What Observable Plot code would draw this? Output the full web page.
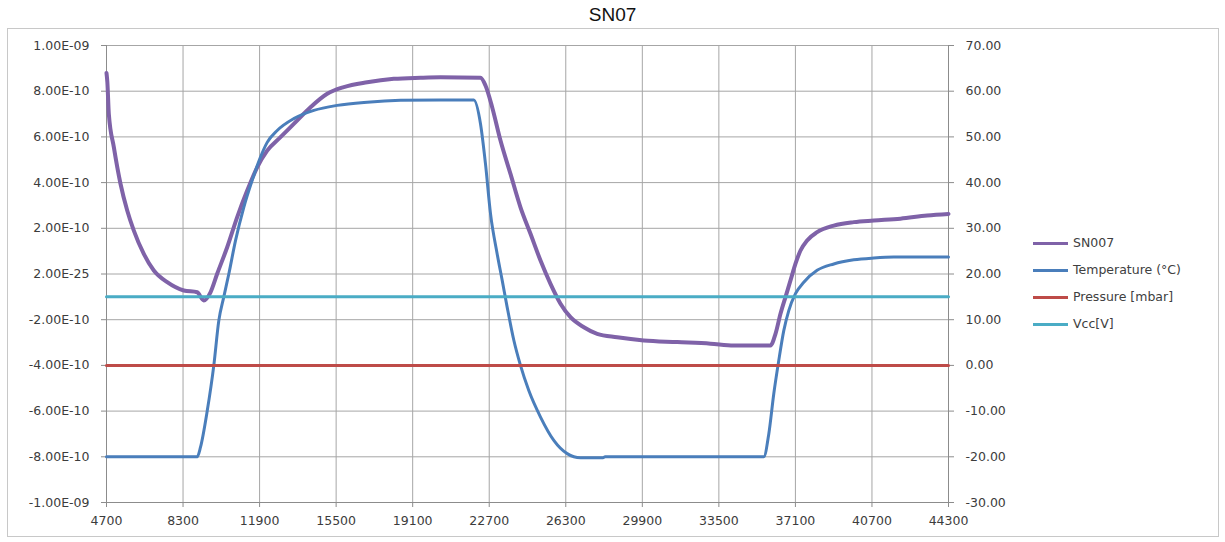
<!DOCTYPE html>
<html>
<head>
<meta charset="utf-8">
<script src="https://cdn.jsdelivr.net/npm/d3@7"></script>
<script src="https://cdn.jsdelivr.net/npm/@observablehq/plot@0.6"></script>
<style>
  html, body { margin: 0; padding: 0; background: #fff; }
  #wrap { position: relative; width: 1225px; height: 542px; overflow: hidden; }
  #frame { position: absolute; left: 7px; top: 28px; width: 1212px; height: 509px; border: 1px solid #c8c8c8; box-sizing: border-box; }
  #title { position: absolute; left: 0; top: 3px; width: 1225px; text-align: center; font: 19px "Liberation Sans", Arial, sans-serif; line-height: 24px; color: #111; }
  #legend { position: absolute; left: 1033px; top: 0; font: 12.5px "DejaVu Sans", sans-serif; color: #404040; }
  .item { position: absolute; left: 0; white-space: nowrap; height: 16px; line-height: 16px; }
  .swatch { position: absolute; left: 0; top: 6.5px; width: 35px; height: 3px; }
  .lab { position: absolute; left: 40px; top: 0; }
  #chart { position: absolute; left: 0; top: 0; }
</style>
</head>
<body>
<div id="wrap">
  <div id="frame"></div>
  <div id="chart"></div>
  <div id="title"></div>
  <div id="legend"></div>
</div>
<script>
// ---- data ----
const title = "SN07";

const xTicks = [4700, 8300, 11900, 15500, 19100, 22700, 26300, 29900, 33500, 37100, 40700, 44300];
const yTicks = [70, 60, 50, 40, 30, 20, 10, 0, -10, -20, -30]; // right axis (°C) positions
const leftLabels = ["1.00E-09", "8.00E-10", "6.00E-10", "4.00E-10", "2.00E-10", "2.00E-25",
                    "-2.00E-10", "-4.00E-10", "-6.00E-10", "-8.00E-10", "-1.00E-09"];
const rightLabels = ["70.00", "60.00", "50.00", "40.00", "30.00", "20.00", "10.00", "0.00",
                     "-10.00", "-20.00", "-30.00"];

const seriesNames = ["SN007", "Temperature (°C)", "Pressure [mbar]", "Vcc[V]"];
const seriesColors = ["#7f62a8", "#4a7ebb", "#be4b48", "#4aacc5"];

// SN007 (left axis, values in units of 1e-10)
const snX = [4700, 4740, 4810, 5045, 5358, 5674, 5985, 6454, 6925, 7555, 8335, 8966, 9276, 9591,
  9906, 10376, 10847, 11317, 11787, 12258, 12883, 13509, 14294, 15080, 15860, 16961, 18212, 19468,
  20408, 22289, 22524, 22838, 23230, 23700, 24170, 24641, 25112, 25582, 26052, 26523, 27150, 27777,
  28718, 29971, 31540, 33107, 34202, 35928, 36163, 36398, 36633, 36869, 37104, 37339, 37652, 38121,
  38905, 39845, 40785, 42040, 43295, 44300];
const snY = [8.8, 8.4, 7.0, 5.55, 3.95, 2.78, 1.90, 0.88, 0.15, -0.36, -0.72, -0.80, -1.16, -0.80,
  0.01, 1.17, 2.49, 3.65, 4.67, 5.40, 5.99, 6.57, 7.30, 7.89, 8.18, 8.39, 8.54, 8.59,
  8.61, 8.59, 8.25, 7.30, 5.84, 4.38, 2.92, 1.76, 0.59, -0.43, -1.30, -1.89, -2.33, -2.62,
  -2.77, -2.91, -2.98, -3.05, -3.13, -3.13, -2.62, -1.74, -1.01, -0.28, 0.45, 1.03, 1.47, 1.83,
  2.12, 2.27, 2.34, 2.42, 2.56, 2.63];

// Temperature (°C, right axis)
const tempX = [4700, 8965, 9121, 9436, 9747, 9982, 10217, 10452, 10767, 11157, 11552, 11943, 12258,
  12728, 13509, 14450, 15550, 16961, 18527, 20408, 21974, 22289, 22524, 22760, 23074, 23310, 23545,
  23857, 24170, 24561, 25112, 25737, 26366, 26992, 28050, 28150, 35613, 35848, 36083, 36318, 36553,
  36788, 37102, 37494, 38121, 38905, 39845, 40785, 41726, 44300];
const tempY = [-20, -20, -17.9, -10, 0, 9.8, 15, 20, 27.3, 34.6, 40.5, 45.6, 48.8,
  51.4, 54, 55.8, 56.9, 57.6, 58, 58.1, 58.1, 52.9, 44.1, 33.2, 24.4, 18.6, 12.7,
  5.5, 0, -5.5, -11.3, -16.4, -19.3, -20.2, -20.2, -20, -20, -15, -6.2, 1.1, 7.6,
  12, 15.7, 18.2, 20.8, 22.2, 23.1, 23.5, 23.7, 23.7];

// Pressure and Vcc (right axis)
const flatX = [4700, 44300];
const pressureY = [0, 0];
const vccY = [15, 15];

// ---- build ----
// left axis value v (×1e-10) maps onto the right axis as 5*v + 20
const snRows = snX.map((x, i) => ({x, t: snY[i] * 5 + 20}));
const tempRows = tempX.map((x, i) => ({x, t: tempY[i]}));
const presRows = flatX.map((x, i) => ({x, t: pressureY[i]}));
const vccRows = flatX.map((x, i) => ({x, t: vccY[i]}));

const gridC = "#a6a6a6", axisC = "#8c8c8c", textC = "#3c3c3c";

const chart = Plot.plot({
  width: 1225, height: 542,
  marginLeft: 106, marginRight: 277, marginTop: 45, marginBottom: 40,
  style: {fontFamily: "DejaVu Sans, sans-serif", fontSize: "12.5px", background: "transparent", overflow: "visible"},
  x: {domain: [4700, 44300]},
  y: {domain: [-30, 70]},
  marks: [
    Plot.gridX(xTicks, {stroke: gridC, strokeOpacity: 1}),
    Plot.gridY(yTicks, {stroke: gridC, strokeOpacity: 1}),
    Plot.ruleX([xTicks[0], xTicks[xTicks.length - 1]], {stroke: axisC}),
    Plot.ruleY([yTicks[yTicks.length - 1]], {stroke: axisC}),
    Plot.axisX({ticks: xTicks, tickFormat: d => String(d), tickSize: 5, tickPadding: 9,
      stroke: axisC, fill: textC, label: null}),
    Plot.axisY({anchor: "left", ticks: yTicks, tickFormat: d => leftLabels[yTicks.indexOf(d)],
      tickSize: 5, tickPadding: 12, stroke: axisC, fill: textC, label: null}),
    Plot.axisY({anchor: "right", ticks: yTicks, tickFormat: d => rightLabels[yTicks.indexOf(d)],
      tickSize: 5, tickPadding: 12, stroke: axisC, fill: textC, label: null}),
    Plot.line(snRows, {x: "x", y: "t", stroke: seriesColors[0], strokeWidth: 4, curve: "monotone-x"}),
    Plot.line(tempRows, {x: "x", y: "t", stroke: seriesColors[1], strokeWidth: 3, curve: "monotone-x"}),
    Plot.line(presRows, {x: "x", y: "t", stroke: seriesColors[2], strokeWidth: 3}),
    Plot.line(vccRows, {x: "x", y: "t", stroke: seriesColors[3], strokeWidth: 3})
  ]
});
document.getElementById("chart").appendChild(chart);
document.getElementById("title").textContent = title;

const legendTops = [235, 262, 289, 316];
const legend = document.getElementById("legend");
seriesNames.forEach((name, i) => {
  const item = document.createElement("div");
  item.className = "item";
  item.style.top = legendTops[i] + "px";
  const sw = document.createElement("div");
  sw.className = "swatch";
  sw.style.background = seriesColors[i];
  const lab = document.createElement("div");
  lab.className = "lab";
  lab.textContent = name;
  item.appendChild(sw);
  item.appendChild(lab);
  legend.appendChild(item);
});
</script>
</body>
</html>
